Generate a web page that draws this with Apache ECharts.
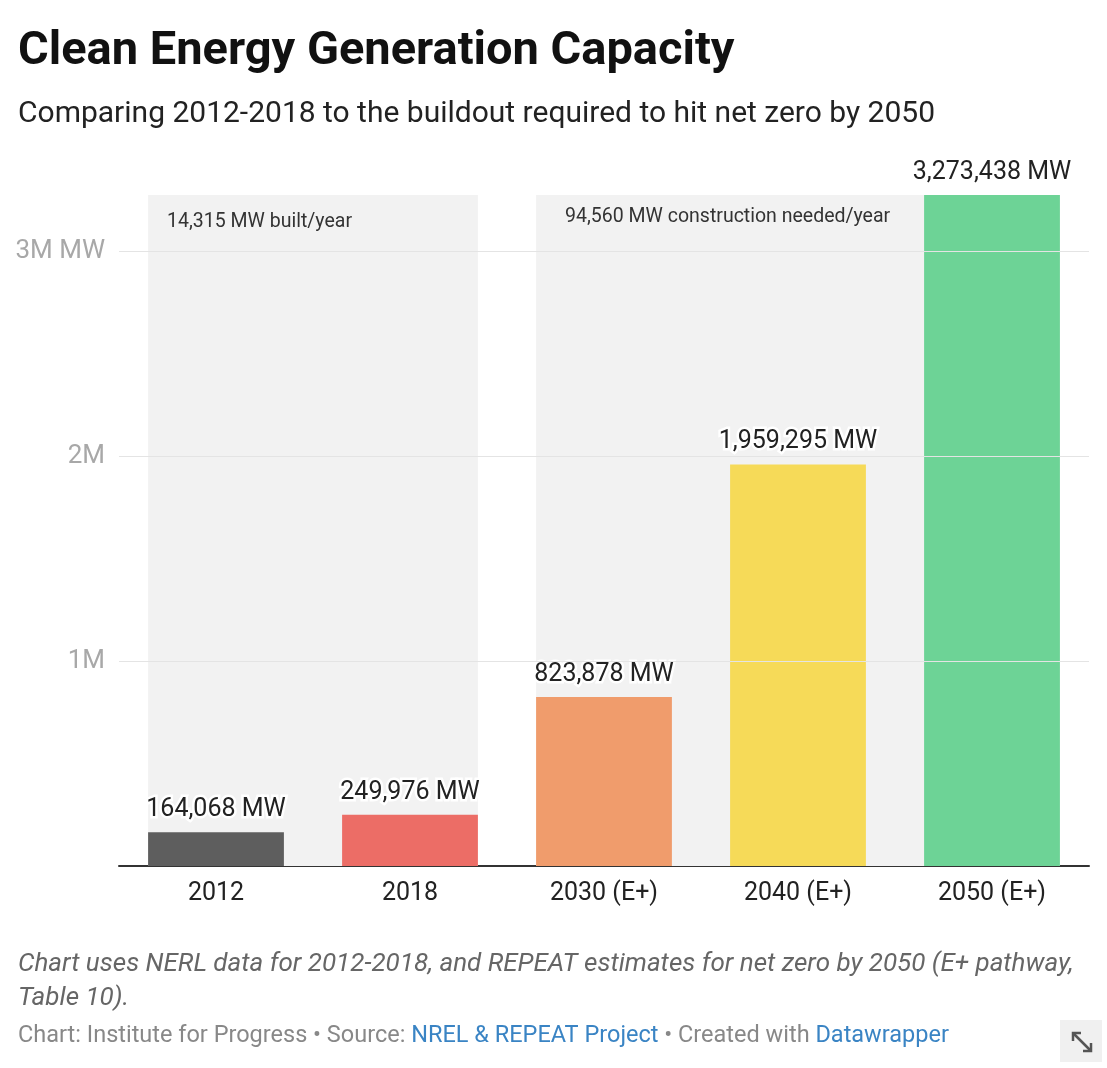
<!DOCTYPE html>
<html><head><meta charset="utf-8">
<script src="https://cdn.jsdelivr.net/npm/echarts@6/dist/echarts.min.js"></script>
<style>html,body{margin:0;padding:0;background:#fff}#c{width:1107px;height:1068px}</style>
</head><body><div id="c"></div>
<script>
const categories = ['2012', '2018', '2030 (E+)', '2040 (E+)', '2050 (E+)'];
const capacityMW = [164068, 249976, 823878, 1959295, 3273438];
const barColors = ['#5e5e5e', '#ec6d66', '#f09c6c', '#f6da58', '#6dd396'];
const yTicks = [1000000, 2000000, 3000000];
const yTickLabels = ['1M', '2M', '3M MW'];
const periodStart = [0, 2];
const periodEnd = [1, 4];
const periodNotes = ['14,315 MW built/year', '94,560 MW construction needed/year'];

const FONT = 'Roboto, "Noto Sans", sans-serif';
const yMax = Math.max(...capacityMW);
const chart = echarts.init(document.getElementById('c'), null, {renderer: 'canvas'});

chart.setOption({
  animation: false,
  backgroundColor: '#fff',
  textStyle: {fontFamily: FONT},
  grid: {left: 119, right: 18, top: 195, bottom: 202, containLabel: false},
  xAxis: {
    type: 'category',
    data: categories,
    axisLine: {lineStyle: {color: '#333', width: 2}},
    axisTick: {show: false},
    axisLabel: {color: '#222', fontSize: 25, margin: 15, fontFamily: FONT}
  },
  yAxis: {
    type: 'value',
    min: 0,
    max: yMax,
    interval: 1000000,
    splitLine: {show: false},
    axisLine: {show: false},
    axisTick: {show: false},
    axisLabel: {
      color: '#a8a8a8', fontSize: 26, margin: 14, fontFamily: FONT,
      formatter: function (v) { const i = yTicks.indexOf(v); return i >= 0 ? yTickLabels[i] : ''; }
    }
  },
  series: [
    {
      type: 'custom',
      z: 1,
      silent: true,
      data: periodStart.map((s, i) => [s, periodEnd[i], i]),
      encode: {x: 0},
      renderItem: function (params, api) {
        const s = api.value(0), e = api.value(1), idx = api.value(2);
        const band = api.size([1, 0])[0];
        const left = api.coord([s, 0])[0] - band * 0.35;
        const right = api.coord([e, 0])[0] + band * 0.35;
        const top = api.coord([s, yMax])[1];
        const bottom = api.coord([s, 0])[1];
        const dx = idx === 0 ? 19 : 29;
        const dy = idx === 0 ? 27 : 22;
        return {
          type: 'group',
          children: [
            {type: 'rect', shape: {x: left, y: top, width: right - left, height: bottom - top}, style: {fill: '#f2f2f2'}},
            {type: 'text', style: {text: periodNotes[idx], x: left + dx, y: top + dy, fill: '#333', fontSize: 19.5, fontFamily: FONT, align: 'left', verticalAlign: 'middle'}}
          ]
        };
      },
      markLine: {
        silent: true,
        symbol: 'none',
        label: {show: false},
        lineStyle: {color: '#e4e4e4', width: 1, type: 'solid'},
        data: yTicks.map(v => ({yAxis: v}))
      }
    },
    {
      type: 'bar',
      z: 3,
      barWidth: '70%',
      data: capacityMW.map((v, i) => ({value: v, itemStyle: {color: barColors[i]}})),
      label: {
        show: true, position: 'top', distance: 10,
        formatter: p => p.value.toLocaleString('en-US') + ' MW',
        fontSize: 25, color: '#222', fontFamily: FONT,
        textBorderColor: '#fff', textBorderWidth: 5
      }
    }
  ],
  graphic: [
    {type: 'text', left: 18, top: 29, style: {text: 'Clean Energy Generation Capacity', fill: '#111', font: 'bold 47px ' + FONT}},
    {type: 'text', left: 18, top: 99, style: {text: 'Comparing 2012-2018 to the buildout required to hit net zero by 2050', fill: '#222', font: '30px ' + FONT}},
    {type: 'text', left: 18, top: 947, style: {text: 'Chart uses NERL data for 2012-2018, and REPEAT estimates for net zero by 2050 (E+ pathway,\nTable 10).', fill: '#666', font: 'italic 26px ' + FONT, lineHeight: 34}},
    {type: 'text', left: 18, top: 1024, style: {
      text: '{g|Chart: Institute for Progress • Source: }{b|NREL & REPEAT Project}{g| • Created with }{b|Datawrapper}',
      rich: {g: {fill: '#888', fontSize: 23.5, fontFamily: FONT}, b: {fill: '#3a84c4', fontSize: 23.5, fontFamily: FONT}}
    }},
    {type: 'rect', left: 1060, top: 1020, shape: {width: 42, height: 42}, style: {fill: '#f0f0f0'}},
    {type: 'polyline', shape: {points: [[1073, 1033], [1091, 1051]]}, style: {stroke: '#555', lineWidth: 2.5}},
    {type: 'polyline', shape: {points: [[1073, 1041], [1073, 1033], [1081, 1033]]}, style: {stroke: '#555', lineWidth: 2.5, fill: null}},
    {type: 'polyline', shape: {points: [[1083, 1051], [1091, 1051], [1091, 1043]]}, style: {stroke: '#555', lineWidth: 2.5, fill: null}}
  ]
});
</script>
</body></html>
